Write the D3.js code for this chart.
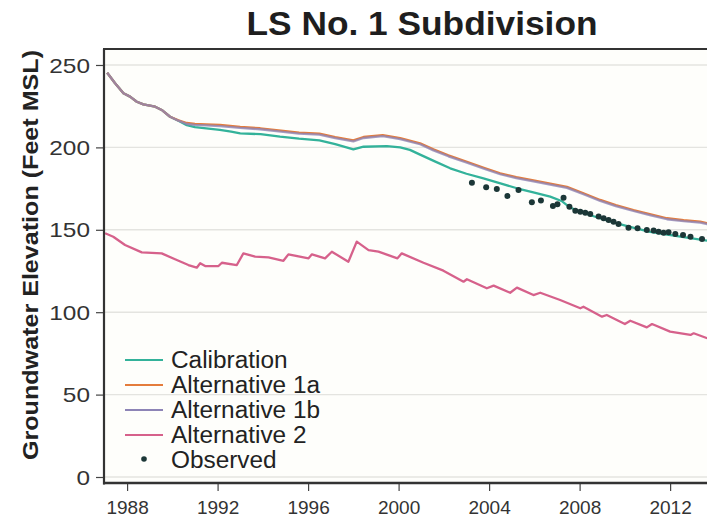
<!DOCTYPE html>
<html><head><meta charset="utf-8">
<script src="https://cdn.jsdelivr.net/npm/d3@7"></script>
<style>
html,body{margin:0;padding:0;background:#ffffff;}
svg{display:block;font-family:"Liberation Sans",Arial,sans-serif;}
</style></head>
<body>
<svg id="chart" width="707" height="523"></svg>
<script>
// ---------------- data ----------------
const titleText = "LS No. 1 Subdivision";
const yAxisTitle = "Groundwater Elevation (Feet MSL)";
const xTicks = [1988, 1992, 1996, 2000, 2004, 2008, 2012];
const yTicks = [0, 50, 100, 150, 200, 250];
const seriesNames = ["Calibration", "Alternative 1a", "Alternative 1b", "Alternative 2", "Observed"];

const calibration = [
  [1987.12,245.3],[1987.47,238.9],[1987.84,232.8],[1988.13,230.8],[1988.43,227.7],[1988.72,226.1],
  [1989.24,224.7],[1989.53,222.7],[1989.9,218.6],[1990.27,216.2],[1990.64,213.5],[1991.0,212.3],
  [1991.5,211.6],[1992.1,210.6],[1992.6,209.6],[1993.0,208.5],[1993.9,208.0],[1994.76,206.5],
  [1995.6,205.3],[1996.5,204.3],[1997.2,202.0],[1998.0,198.8],[1998.45,200.4],[1999.48,200.8],
  [2000.07,200.0],[2000.5,198.5],[2000.95,195.6],[2001.6,191.5],[2002.28,187.3],[2003.0,184.0],
  [2003.75,181.2],[2004.5,178.2],[2005.23,175.2],[2006.0,172.5],[2006.7,170.1],[2007.2,167.5],
  [2007.58,163.5],[2008.1,160.5],[2008.9,157.0],[2009.65,153.9],[2010.4,151.2],[2011.12,148.8],
  [2011.8,147.3],[2012.6,145.6],[2013.64,143.4]
];
const alternative1a = [
  [1987.12,245.3],[1987.47,238.9],[1987.84,232.8],[1988.13,230.8],[1988.43,227.7],[1988.72,226.1],
  [1989.24,224.7],[1989.53,222.7],[1989.9,218.6],[1990.27,216.4],[1990.64,214.8],[1991.0,214.3],
  [1991.5,214.0],[1992.11,213.6],[1993.0,212.4],[1993.88,211.6],[1994.8,210.2],[1995.6,209.0],
  [1996.5,208.3],[1997.2,206.2],[1998.0,204.3],[1998.45,206.3],[1999.3,207.4],[2000.07,205.6],
  [2000.95,202.5],[2001.54,198.8],[2002.2,195.2],[2003.02,191.3],[2003.8,187.5],[2004.49,184.3],
  [2005.2,182.0],[2005.96,180.0],[2006.7,178.0],[2007.44,176.0],[2008.2,172.0],[2008.91,168.1],
  [2009.6,165.0],[2010.38,162.0],[2011.1,159.5],[2011.86,157.0],[2012.6,155.8],[2013.33,154.9],
  [2013.64,154.0]
];
const alternative1b = [
  [1987.12,245.3],[1987.47,238.9],[1987.84,232.8],[1988.13,230.8],[1988.43,227.7],[1988.72,226.1],
  [1989.24,224.7],[1989.53,222.7],[1989.9,218.6],[1990.27,216.2],[1990.64,214.2],[1991.0,213.7],
  [1991.5,213.4],[1992.11,212.9],[1993.0,211.8],[1993.88,211.0],[1994.8,209.6],[1995.6,208.4],
  [1996.5,207.7],[1997.2,205.6],[1998.0,203.7],[1998.45,205.7],[1999.3,206.8],[2000.07,205.0],
  [2000.95,201.9],[2001.54,198.2],[2002.2,194.6],[2003.02,190.7],[2003.8,186.9],[2004.49,183.7],
  [2005.2,181.4],[2005.96,179.4],[2006.7,177.4],[2007.44,175.4],[2008.2,171.4],[2008.91,167.5],
  [2009.6,164.4],[2010.38,161.4],[2011.1,158.9],[2011.86,156.4],[2012.6,155.2],[2013.33,154.3],
  [2013.64,153.5]
];
const alternative2 = [
  [1987.03,147.9],[1987.39,145.8],[1987.91,140.8],[1988.65,136.3],[1989.53,135.7],[1990.12,132.1],
  [1990.71,128.6],[1991.08,127.0],[1991.23,129.7],[1991.45,128.0],[1992.04,128.0],[1992.19,130.0],
  [1992.85,128.6],[1993.14,135.7],[1993.66,133.7],[1994.25,133.3],[1994.91,131.2],[1995.13,135.1],
  [1996.02,132.7],[1996.17,135.1],[1996.75,132.7],[1997.05,136.7],[1997.78,130.6],[1998.15,142.8],
  [1998.67,137.7],[1999.11,136.7],[1999.95,132.7],[2000.14,135.7],[2001.1,130.0],[2001.98,125.2],
  [2002.87,118.5],[2003.02,120.0],[2003.9,114.5],[2004.2,116.1],[2004.93,111.8],[2005.23,114.9],
  [2005.96,110.4],[2006.26,111.8],[2007.14,107.4],[2008.03,102.4],[2008.17,103.3],[2008.99,97.3],
  [2009.2,98.3],[2010.0,92.8],[2010.24,94.8],[2010.97,90.8],[2011.2,92.8],[2012.0,88.2],
  [2012.9,86.2],[2013.04,87.2],[2013.64,84.2]
];
const observed = [
  [2003.24,178.6],[2003.87,175.8],[2004.34,174.8],[2004.81,170.5],[2005.3,174.2],[2005.89,166.7],
  [2006.29,167.7],[2006.82,164.4],[2007.02,165.5],[2007.29,169.5],[2007.55,164.0],[2007.81,161.6],
  [2008.03,161.0],[2008.25,160.4],[2008.47,159.6],[2008.84,158.0],[2009.06,157.0],[2009.28,156.0],
  [2009.5,154.9],[2009.72,153.5],[2010.16,151.3],[2010.56,150.9],[2010.97,149.9],[2011.27,149.5],
  [2011.49,148.8],[2011.71,148.2],[2011.93,148.5],[2012.23,147.5],[2012.57,146.8],[2012.9,145.8],
  [2013.41,144.4]
];

// ---------------- drawing ----------------
const colors = {
  "Calibration":"#33b29a",
  "Alternative 1a":"#e47c3c",
  "Alternative 1b":"#8d84b6",
  "Alternative 2":"#d6618b",
  "Observed":"#1c3737"
};
const svg = d3.select("#chart");
const W = 707, H = 523;
const plot = {left:104, top:49, right:707, bottom:483};

const x = d3.scaleLinear().domain([1986.98, 2013.63]).range([plot.left, plot.right]);
const y = d3.scaleLinear().domain([-3.64, 259.7]).range([plot.bottom, plot.top]);

svg.append("rect").attr("x",0).attr("y",0).attr("width",W).attr("height",H).attr("fill","#ffffff");
svg.append("rect").attr("x",plot.left).attr("y",plot.top)
  .attr("width",plot.right-plot.left).attr("height",plot.bottom-plot.top).attr("fill","#fefefb");

// gridlines
svg.append("g").selectAll("line").data(yTicks).join("line")
  .attr("x1",plot.left).attr("x2",plot.right)
  .attr("y1",d=>y(d)).attr("y2",d=>y(d))
  .attr("stroke","#e4e4e0").attr("stroke-width",1.4);

// clip
svg.append("clipPath").attr("id","clip").append("rect")
  .attr("x",plot.left).attr("y",plot.top).attr("width",plot.right-plot.left).attr("height",plot.bottom-plot.top);

const line = d3.line().x(d=>x(d[0])).y(d=>y(d[1]));
const g = svg.append("g").attr("clip-path","url(#clip)");
const lineSeries = [
  ["Alternative 2", alternative2],
  ["Calibration", calibration],
  ["Alternative 1a", alternative1a],
  ["Alternative 1b", alternative1b]
];
lineSeries.forEach(([name,data])=>{
  g.append("path").datum(data).attr("d",line)
    .attr("fill","none").attr("stroke",colors[name]).attr("stroke-width",2.3)
    .attr("stroke-linejoin","round").attr("opacity",name==="Alternative 1b"?0.8:1);
});
g.selectAll("circle.obs").data(observed).join("circle").attr("class","obs")
  .attr("cx",d=>x(d[0])).attr("cy",d=>y(d[1])).attr("r",3).attr("fill",colors["Observed"]);

// axes
const yAxis = d3.axisLeft(y).tickValues(yTicks).tickSize(8).tickPadding(6).tickFormat(d3.format("d"));
const yg = svg.append("g").attr("transform",`translate(${plot.left},0)`).call(yAxis);
yg.select(".domain").remove();
yg.selectAll(".tick line").attr("stroke","#444").attr("stroke-width",1.2);
yg.selectAll(".tick text").attr("font-size",20).attr("fill","#333").attr("dy","0.36em")
  .attr("x",null).attr("text-anchor","end")
  .attr("transform","translate(-14,0) scale(1.22,1)");

const xAxis = d3.axisBottom(x).tickValues(xTicks).tickSize(8).tickPadding(10).tickFormat(d3.format("d"));
const xg = svg.append("g").attr("transform",`translate(0,${plot.bottom})`).call(xAxis);
xg.select(".domain").remove();
xg.selectAll(".tick line").attr("stroke","#444").attr("stroke-width",1.2);
xg.selectAll(".tick text").attr("font-size",19).attr("fill","#333");

// frame lines
svg.append("line").attr("x1",plot.left).attr("x2",plot.left).attr("y1",plot.top).attr("y2",plot.bottom+1.5)
  .attr("stroke","#333").attr("stroke-width",2.2);
svg.append("line").attr("x1",plot.left-1).attr("x2",plot.right).attr("y1",plot.bottom).attr("y2",plot.bottom)
  .attr("stroke","#333").attr("stroke-width",2.6);
svg.append("line").attr("x1",plot.left-1).attr("x2",plot.right).attr("y1",plot.top).attr("y2",plot.top)
  .attr("stroke","#333").attr("stroke-width",2);

// title
svg.append("text").attr("x",422).attr("y",35).attr("text-anchor","middle")
  .attr("font-size",33).attr("font-weight","bold").attr("fill","#1e1e1e")
  .attr("textLength",351).attr("lengthAdjust","spacingAndGlyphs").text(titleText);

// y axis title
svg.append("text").attr("transform","translate(38,255) rotate(-90)").attr("text-anchor","middle")
  .attr("font-size",22).attr("font-weight","bold").attr("fill","#222")
  .attr("textLength",410).attr("lengthAdjust","spacingAndGlyphs").text(yAxisTitle);

// legend
const leg = svg.append("g");
seriesNames.forEach((name,i)=>{
  const cy = 360 + i*25;
  if(name==="Observed"){
    leg.append("circle").attr("cx",144).attr("cy",cy-1).attr("r",2.8).attr("fill",colors[name]);
  } else {
    leg.append("line").attr("x1",125).attr("x2",163).attr("y1",cy).attr("y2",cy)
      .attr("stroke",colors[name]).attr("stroke-width",2.2);
  }
  leg.append("text").attr("x",171).attr("y",cy).attr("dy","0.36em")
    .attr("font-size",23).attr("fill","#222")
    .attr("transform",`translate(171,0) scale(1.06,1) translate(-171,0)`).text(name);
});
</script>
</body></html>
